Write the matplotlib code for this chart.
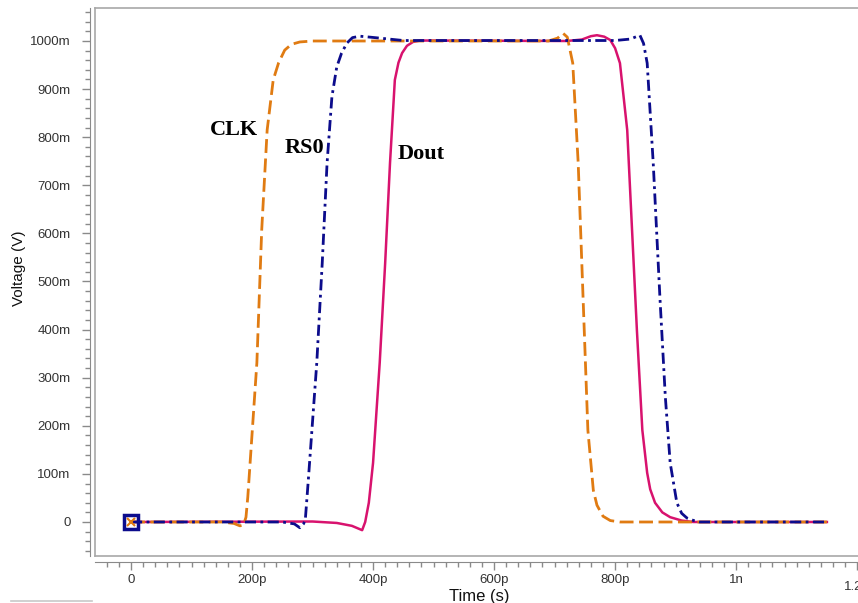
import matplotlib
matplotlib.use("Agg")
import matplotlib.pyplot as plt
import matplotlib.transforms as mtransforms
from matplotlib.lines import Line2D

# ----------------------------------------
# Data (time in ps, voltage in mV)
# ----------------------------------------
clk_t = [0, 150, 170, 180, 186, 190, 193, 208, 216, 225, 235, 244, 254,
         265, 279, 300, 690, 705, 714, 721, 730, 739, 747, 755, 764, 770,
         780, 792, 808, 1150]
clk_v = [0, 0, -3, -8, -6, 10, 52, 331, 607, 815, 919, 955, 981,
         993, 998, 1000, 1000, 1006, 1016, 1008, 954, 746, 468, 191, 66, 35,
         12, 3, 0, 0]

rs0_t = [0, 250, 270, 279, 285, 288, 293, 307, 316, 324, 332, 340, 348,
         357, 366, 378, 395, 411, 450, 800, 825, 841, 847, 853, 863, 874,
         883, 891, 902, 910, 919, 930, 940, 1150]
rs0_v = [0, 0, -4, -12, -4, 4, 87, 331, 538, 746, 884, 946, 975,
         996, 1007, 1010, 1008, 1006, 1001, 1001, 1004, 1012, 995, 954, 746,
         468, 260, 123, 40, 18, 8, 3, 0, 0]

dout_t = [0, 300, 340, 365, 382, 387, 393, 400, 411, 420, 428, 436, 442,
          448, 456, 466, 478, 720, 745, 760, 770, 782, 792, 800, 808, 820,
          828, 836, 845, 853, 858, 866, 878, 891, 910, 929, 1150]
dout_v = [0, 1, -2, -8, -17, 0, 40, 123, 331, 538, 746, 919, 955,
          975, 990, 998, 1001, 1000, 1003, 1010, 1012, 1009, 1002, 985, 954,
          815, 607, 399, 191, 102, 68, 40, 20, 10, 3, 0, 0]

x_ticks = [0, 200, 400, 600, 800, 1000, 1200]
x_labels = ["0", "200p", "400p", "600p", "800p", "1n", "1.2n"]
y_ticks = [0, 100, 200, 300, 400, 500, 600, 700, 800, 900, 1000]
y_labels = ["0", "100m", "200m", "300m", "400m", "500m", "600m", "700m",
            "800m", "900m", "1000m"]

labels = ["CLK", "RS0", "Dout"]
label_pos = [(131, 815), (254, 777), (440, 765)]

# ----------------------------------------
# Figure
# ----------------------------------------
W, H = 858, 603
fig = plt.figure(figsize=(W / 100, H / 100), dpi=100)
ax = fig.add_axes([95 / W, (H - 556) / H, (862 - 95) / W, (556 - 8) / H])

ax.set_xlim(-59.5, 1208)
ax.set_ylim(-70.7, 1068.6)

frame_c = "#a8a8a8"
tick_c = "#8a8a8a"

ax.plot(clk_t, clk_v, color="#e07b12", lw=2.0, dashes=(5, 2), zorder=3)
ax.plot(rs0_t, rs0_v, color="#0c0c8c", lw=2.0, dashes=(4, 1.6, 1, 1.6),
        zorder=4)
ax.plot(dout_t, dout_v, color="#d8126e", lw=1.8, zorder=2)

# start markers
ax.plot([0], [0], marker="s", ms=10, mfc="none", mec="#0c0c8c", mew=2.5,
        zorder=5)
ax.plot([0], [0], marker="x", ms=6, mec="#e07b12", mew=1.5, zorder=6)

for name, (tx, ty) in zip(labels, label_pos):
    ax.text(tx, ty, name, family="Liberation Serif", weight="bold",
            fontsize=16, ha="left", va="center", color="black")

# frame and detached axis lines
ax.spines["right"].set_visible(False)
ax.spines["top"].set_color(frame_c)
ax.spines["top"].set_linewidth(1.2)
ax.spines["left"].set_position(("outward", 3.6))
ax.spines["bottom"].set_position(("outward", 4.3))
ax.spines["left"].set_color(tick_c)
ax.spines["bottom"].set_color(tick_c)
ax.add_line(Line2D([0, 0], [0, 1], transform=ax.transAxes, color=frame_c,
                   lw=1.2, clip_on=False))
ax.add_line(Line2D([0, 1], [0, 0], transform=ax.transAxes, color=frame_c,
                   lw=1.2, clip_on=False))

ax.set_xticks(x_ticks)
ax.set_xticklabels(x_labels)
ax.set_yticks(y_ticks)
ax.set_yticklabels(y_labels)
ax.set_xticks(range(-40, 1210, 20), minor=True)
ax.set_yticks(range(-60, 1061, 20), minor=True)
ax.tick_params(which="major", length=6, width=1, color=tick_c,
               labelsize=9.5, labelcolor="#333333")
ax.tick_params(which="minor", length=3.5, width=1, color=tick_c)
ax.tick_params(axis="x", pad=3)
ax.tick_params(axis="y", pad=8)
for lab in ax.get_xticklabels() + ax.get_yticklabels():
    lab.set_family("Liberation Sans")

# last tick label sits a bit lower in the original
last = ax.get_xticklabels()[-1]
last.set_transform(last.get_transform() +
                   mtransforms.ScaledTranslation(0, -7 / 100,
                                                 fig.dpi_scale_trans))

fig.text(19 / W, 1 - 268 / H, "Voltage (V)", rotation=90, ha="center",
         va="center", fontsize=11, family="Liberation Sans", color="#111111")
fig.text(479 / W, 1 - 597 / H, "Time (s)", ha="center", va="center",
         fontsize=12, family="Liberation Sans", color="#111111")

# small box line at the lower left
fig.add_artist(Line2D([11 / W, 92 / W], [1 - 601 / H, 1 - 601 / H],
                      color="#c8c8c8", lw=1.2))

fig.savefig("out.png", dpi=100)
